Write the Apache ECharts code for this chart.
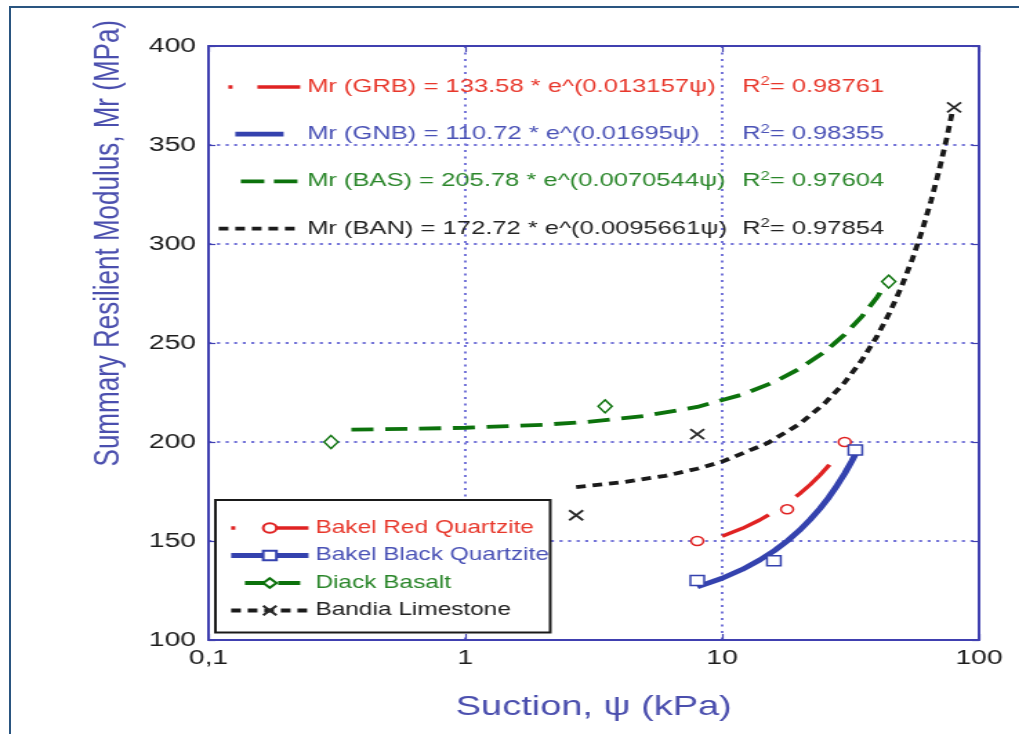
<!DOCTYPE html>
<html>
<head>
<meta charset="utf-8">
<title>Summary Resilient Modulus vs Suction</title>
<script src="https://cdn.jsdelivr.net/npm/echarts@6/dist/echarts.min.js"></script>
<style>
  html, body { margin: 0; padding: 0; background: #fff; overflow: hidden; width: 1019px; height: 734px; }
  #frame { position: absolute; left: 9px; top: 6px; width: 1020px; height: 740px;
           border-top: 2px solid #2a5580; border-left: 2px solid #2a5580; }
  /* the figure is laid out on a narrower canvas and widened horizontally */
  #chart { position: absolute; left: 0; top: 0; width: 738px; height: 734px;
           transform: scaleX(1.3808); transform-origin: 0 0; }
</style>
</head>
<body>
<div id="frame"></div>
<div id="chart"></div>
<script>
// ---- axis ticks ----
const xTicks = [0.1, 1, 10, 100];
const xTickLabels = ['0,1', '1', '10', '100'];
const yTicks = [100, 150, 200, 250, 300, 350, 400];

// ---- measured points (suction kPa, Mr MPa) ----
const grbPsi = [8.0, 17.9, 30.0];
const grbMr  = [150, 166, 200];
const gnbPsi = [8.0, 15.9, 33.0];
const gnbMr  = [130, 140, 196];
const basPsi = [0.30, 3.5, 44.5];
const basMr  = [200, 218, 281];
const banPsi = [2.7, 8.0, 80.0];
const banMr  = [163, 204, 369];

// ---- fitted curves, sampled along each trend line ----
const grbFitPsi = [10, 12, 14, 16, 18, 20, 22, 24, 26, 27];
const grbFitMr  = [152.4, 156.4, 160.6, 164.9, 169.3, 173.8, 178.4, 183.2, 188.1, 190.6];
const gnbFitPsi = [8, 10, 12, 14, 16, 18, 20, 22, 24, 26, 28, 30, 32, 33];
const gnbFitMr  = [126.8, 131.2, 135.7, 140.4, 145.2, 150.2, 155.4, 160.8, 166.3, 172.0, 178.0, 184.1, 190.5, 193.7];
const basFitPsi = [0.36, 0.6, 1, 2, 3, 5, 8, 12, 16, 20, 25, 30, 35, 40, 45];
const basFitMr  = [206.3, 206.6, 207.2, 208.7, 210.2, 213.2, 217.7, 224.0, 230.4, 237.0, 245.5, 254.3, 263.4, 272.9, 282.7];
const banFitPsi = [2.7, 4, 6, 8, 10, 15, 20, 25, 30, 35, 40, 45, 50, 55, 60, 65, 70, 75, 79];
const banFitMr  = [177.2, 179.5, 182.9, 186.5, 190.1, 199.4, 209.1, 219.4, 230.1, 241.4, 253.2, 265.6, 278.7, 292.3, 306.6, 321.7, 337.4, 353.9, 367.7];

// ---- labels ----
const materials = ['Bakel Red Quartzite', 'Bakel Black Quartzite', 'Diack Basalt', 'Bandia Limestone'];
const fitNames = [
  'Mr (GRB) = 133.58 * e^(0.013157ψ)',
  'Mr (GNB) = 110.72 * e^(0.01695ψ)',
  'Mr (BAS) = 205.78 * e^(0.0070544ψ)',
  'Mr (BAN) = 172.72 * e^(0.0095661ψ)'
];
const fitR2 = ['0.98761', '0.98355', '0.97604', '0.97854'];

// ---- styling ----
const FONT = '"Liberation Sans", Arial, Helvetica, sans-serif';
const lineColors = ['#e02222', '#3442ae', '#0c720c', '#1a1a1a'];
const textColors = ['#e8382c', '#4a52b6', '#2a862a', '#222222'];
const curveTypes = [[40, 27], 'solid', [16, 8.5], [7, 5]];
const eqIconTypes = [[0, 7, 3, 18, 31, 5], [0, 12, 35, 20], [0, 16, 17, 7, 17, 10], [7, 5]];
const keyIconTypes = [[3, 20, 40, 5], 'solid', [0, 10, 14, 10, 16, 10], [7, 5]];
const lineWidths = [3.4, 4.8, 3.8, 3.8];
const axisBlue = '#4040b0';
const gridBlue = '#7474d8';
const nameBlue = '#4b4fae';
const keys = ['R', 'B', 'G', 'K'];

const zip = (xs, ys) => xs.map((x, i) => [x, ys[i]]);
const fitData = [zip(grbFitPsi, grbFitMr), zip(gnbFitPsi, gnbFitMr), zip(basFitPsi, basFitMr), zip(banFitPsi, banFitMr)];
const pointData = [zip(grbPsi, grbMr), zip(gnbPsi, gnbMr), zip(basPsi, basMr), zip(banPsi, banMr)];

const symbols = ['circle', 'rect', 'diamond', 'path://M0,0L10,10M10,0L0,10'];
const symbolSizes = [9, 10, [10, 13], [10, 10]];

const rich = {};
keys.forEach((k, i) => {
  rich['e' + k] = { fontFamily: FONT, fontSize: 18.5, color: textColors[i], width: 315, lineHeight: 22 };
  rich['r' + k] = { fontFamily: FONT, fontSize: 18.5, color: textColors[i], lineHeight: 22 };
  rich['s' + k] = { fontFamily: FONT, fontSize: 12, color: textColors[i], lineHeight: 14, verticalAlign: 'top' };
});

const series = [];
fitNames.forEach((name, i) => {
  series.push({
    name: name,
    type: 'line',
    data: fitData[i],
    symbol: 'none',
    z: 3,
    lineStyle: { color: lineColors[i], width: lineWidths[i], type: curveTypes[i] },
    itemStyle: { color: lineColors[i] },
    silent: true
  });
});
materials.forEach((name, i) => {
  series.push({
    name: name,
    type: 'line',
    data: pointData[i],
    symbol: symbols[i],
    symbolSize: symbolSizes[i],
    showSymbol: true,
    z: 4,
    lineStyle: { color: lineColors[i], opacity: 0 },
    itemStyle: {
      color: i === 3 ? 'rgba(0,0,0,0)' : '#ffffff',
      borderColor: i === 3 ? '#2a2a2a' : lineColors[i],
      borderWidth: i === 3 ? 1.8 : 1.5
    },
    silent: true
  });
});

const xLabel = v => {
  const idx = xTicks.findIndex(t => Math.abs(Math.log10(t) - Math.log10(v)) < 1e-6);
  return idx >= 0 ? xTickLabels[idx] : '';
};

const option = {
  animation: false,
  backgroundColor: 'transparent',
  grid: { left: 151, right: 29, top: 46, bottom: 94, show: false },
  xAxis: [
    {
      type: 'log', logBase: 10, min: xTicks[0], max: xTicks[xTicks.length - 1],
      position: 'bottom',
      name: 'Suction, ψ (kPa)', nameLocation: 'middle', nameGap: 53,
      nameTextStyle: { fontFamily: FONT, fontSize: 27.5, color: nameBlue },
      axisLine: { show: true, lineStyle: { color: axisBlue, width: 2 } },
      axisTick: { show: true, inside: true, length: 6, lineStyle: { color: axisBlue, width: 1.2 } },
      minorTick: { show: false },
      axisLabel: { formatter: xLabel, fontFamily: FONT, fontSize: 20.5, color: '#1c1c1c', margin: 8 },
      splitLine: { show: true, lineStyle: { color: gridBlue, width: 2, type: [2, 4.5] } }
    },
    {
      type: 'log', logBase: 10, min: xTicks[0], max: xTicks[xTicks.length - 1],
      position: 'top',
      axisLine: { show: true, lineStyle: { color: axisBlue, width: 2 } },
      axisTick: { show: true, inside: true, length: 6, lineStyle: { color: axisBlue, width: 1.2 } },
      axisLabel: { show: false },
      splitLine: { show: false }
    }
  ],
  yAxis: [
    {
      type: 'value', min: yTicks[0], max: yTicks[yTicks.length - 1], interval: 50,
      position: 'left',
      axisLine: { show: true, lineStyle: { color: axisBlue, width: 2 } },
      axisTick: { show: true, inside: true, length: 5, lineStyle: { color: axisBlue, width: 1.2 } },
      axisLabel: { fontFamily: FONT, fontSize: 20.5, color: '#1c1c1c', margin: 9 },
      splitLine: { show: true, lineStyle: { color: gridBlue, width: 2, type: [2.2, 4] } }
    },
    {
      type: 'value', min: yTicks[0], max: yTicks[yTicks.length - 1], interval: 50,
      position: 'right',
      axisLine: { show: true, lineStyle: { color: axisBlue, width: 2 } },
      axisTick: { show: true, inside: true, length: 5, lineStyle: { color: axisBlue, width: 1.2 } },
      axisLabel: { show: false },
      splitLine: { show: false }
    }
  ],
  legend: [
    {
      orient: 'vertical', left: 156, top: 76, padding: 0,
      itemWidth: 59, itemHeight: 14, itemGap: 26.7,
      selectedMode: false,
      data: fitNames.map((n, i) => ({
        name: n,
        itemStyle: { opacity: 0, color: 'rgba(0,0,0,0)', borderWidth: 0 },
        lineStyle: { color: lineColors[i], width: lineWidths[i], type: eqIconTypes[i], opacity: 1 }
      })),
      formatter: name => {
        const i = fitNames.indexOf(name);
        const k = keys[i];
        return '{e' + k + '|' + name + '}{r' + k + '|R}{s' + k + '|2}{r' + k + '|= ' + fitR2[i] + '}';
      },
      textStyle: { rich: rich }
    },
    {
      orient: 'vertical', left: 156, top: 500,
      padding: [18, 1, 12, 9],
      itemWidth: 56, itemHeight: 12, itemGap: 7.5,
      backgroundColor: '#ffffff', borderColor: '#1a1a1a', borderWidth: 2,
      selectedMode: false, z: 10,
      data: materials.map((n, i) => ({
        name: n,
        lineStyle: { color: lineColors[i], width: lineWidths[i], type: keyIconTypes[i], opacity: 1 },
        textStyle: { color: textColors[i] }
      })),
      textStyle: { fontFamily: FONT, fontSize: 17.7, lineHeight: 20 }
    }
  ],
  graphic: [
    {
      type: 'text', left: 66, top: 20, z: 5,
      rotation: Math.PI / 2,
      style: {
        text: 'Summary Resilient Modulus, Mr (MPa)',
        fontFamily: FONT, fontSize: 26, fill: nameBlue
      }
    }
  ],
  series: series
};

const chart = echarts.init(document.getElementById('chart'), null, { renderer: 'canvas' });
chart.setOption(option);
</script>
</body>
</html>
